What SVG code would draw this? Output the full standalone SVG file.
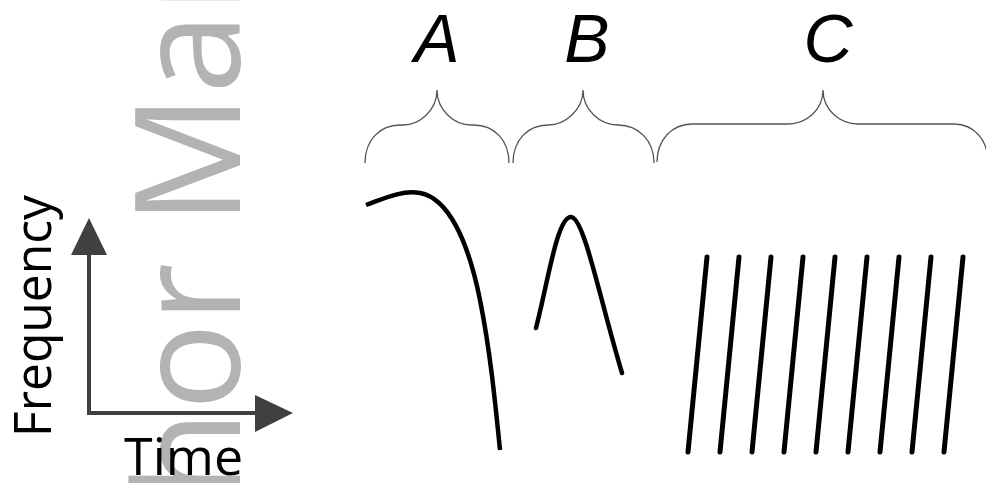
<svg xmlns="http://www.w3.org/2000/svg" width="986" height="483" viewBox="0 0 986 483">
<style>
.wm{font-family:"Open Sans","DejaVu Sans",sans-serif;font-size:146px;fill:#b3b3b3}
.ax{stroke:#404040;stroke-width:4;fill:none}
.ah{fill:#404040}
.lbl{font-family:"Open Sans","DejaVu Sans",sans-serif;font-size:52px;fill:#000}
.let{font-family:"Liberation Sans",Arial,sans-serif;font-style:italic;font-size:68px;fill:#000;text-anchor:middle}
.br{stroke:#555;stroke-width:1.3;fill:none}
.sig{stroke:#000;stroke-width:4.5;fill:none;stroke-linecap:round}
</style>
<rect width="986" height="483" fill="#fff"/>
<g id="watermark">
<text class="wm" transform="translate(240,734) rotate(-90)">Author Manuscript</text>
</g>
<g id="axes">
<line class="ax" x1="89" y1="413" x2="89" y2="250"/>
<polygon class="ah" points="89,218 71,255 107,255"/>
<line class="ax" x1="87" y1="413" x2="258" y2="413"/>
<polygon class="ah" points="293,413 255,395 255,432"/>
<text class="lbl" transform="translate(51,437) rotate(-90)" textLength="242" lengthAdjust="spacingAndGlyphs">Frequency</text>
<text class="lbl" x="124" y="475">Time</text>
</g>
<g id="label-A"><text class="let" x="437" y="62">A</text></g>
<g id="label-B"><text class="let" x="587" y="62">B</text></g>
<g id="label-C"><text class="let" x="828" y="62">C</text></g>
<g id="braces">
<path id="brace-A" class="br" d="M365,163 C365,140 380,125 400,125 L403,125 C420,125 437,110 437,90 C437,110 454,125 471,125 L474,125 C494,125 509,140 509,163"/>
<path id="brace-B" class="br" d="M513,163 C513,140 528,125 548,125 C565,125 583,110 583,90 C583,110 600,125 618,125 C638,125 654,140 654,163"/>
<path id="brace-C" class="br" d="M657,162 C657,140 672,124 692,124 L788,124 C806,124 823,110 823,90 C823,110 840,124 858,124 L954,124 C974,124 988,140 988,162"/>
</g>
<g id="signal-A"><path class="sig" style="stroke-linecap:butt" d="M366,205 C385,198 402,190 420,193 C448,198 468,240 480,300 C490,350 495,400 500,450"/></g>
<g id="signal-B"><path class="sig" d="M536,328 C548,282 557,217 571,217 C584,217 600,300 622,373"/></g>
<g id="signal-C" class="sig" style="stroke-width:5">
<line x1="707" y1="257" x2="688" y2="452"/>
<line x1="739" y1="257" x2="720" y2="452"/>
<line x1="771" y1="257" x2="752" y2="452"/>
<line x1="803" y1="257" x2="784" y2="452"/>
<line x1="835" y1="257" x2="816" y2="452"/>
<line x1="867" y1="257" x2="848" y2="452"/>
<line x1="899" y1="257" x2="880" y2="452"/>
<line x1="931" y1="257" x2="912" y2="452"/>
<line x1="963" y1="257" x2="944" y2="452"/>
</g>
</svg>
